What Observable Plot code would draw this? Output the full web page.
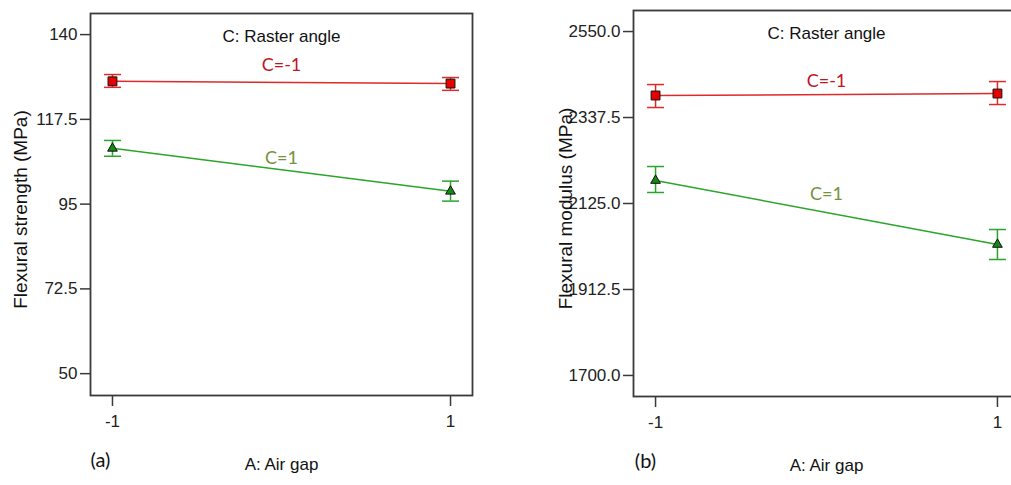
<!DOCTYPE html>
<html>
<head>
<meta charset="utf-8">
<script src="https://cdn.jsdelivr.net/npm/d3@7"></script>
<script src="https://cdn.jsdelivr.net/npm/@observablehq/plot@0.6"></script>
<style>
  html, body { margin: 0; padding: 0; background: #fff; }
  body { width: 1011px; height: 485px; overflow: hidden; position: relative; }
  .panel { position: absolute; top: 0; height: 485px; }
  .panel svg { display: block; overflow: visible; max-width: none !important; }
</style>
</head>
<body>
<div id="a" class="panel" style="left:0px;width:500px"></div>
<div id="b" class="panel" style="left:500px;width:530px"></div>
<script>
// ---- data ----
const airGap = [-1, 1];
const seriesNames = ["C=-1", "C=1"];

// (a) Flexural strength (MPa)
const strengthTicks = [50, 72.5, 95, 117.5, 140];
const strengthRed = [127.6, 127.0];
const strengthRedLow = [126.0, 125.2];
const strengthRedHigh = [129.4, 128.6];
const strengthGreen = [109.8, 98.4];
const strengthGreenLow = [107.7, 95.8];
const strengthGreenHigh = [111.9, 101.1];

// (b) Flexural modulus (MPa)
const modulusTicks = [1700, 1912.5, 2125, 2337.5, 2550];
const modulusRed = [2391.9, 2396.8];
const modulusRedLow = [2362.2, 2369.6];
const modulusRedHigh = [2419.0, 2426.4];
const modulusGreen = [2181.8, 2023.7];
const modulusGreenLow = [2152.2, 1986.6];
const modulusGreenHigh = [2216.4, 2060.7];

const xTicks = [-1, 1];

// ---- styling ----
const SANS = "'Liberation Sans', Arial, sans-serif";
const CAL = "Lato, 'Open Sans', sans-serif";
const RED_LINE = "#dd2a2a", RED_FILL = "#e60000", RED_TEXT = "#c0141e";
const GREEN_LINE = "#2aa52a", GREEN_FILL = "#148a14", GREEN_TEXT = "#76923c";
const FRAME = "#3a3a3a";

// horizontal error-bar cap as a custom symbol
const capSymbol = {
  draw(ctx, size) {
    const r = Math.sqrt(size / Math.PI);
    ctx.moveTo(-r, 0);
    ctx.lineTo(r, 0);
  }
};

function rows(vals, lows, highs, name) {
  return airGap.map((x, i) => ({x, y: vals[i], lo: lows[i], hi: highs[i], name}));
}

function panel({red, green, ticks, tickFormat, yDomain, xDomain, width, marginLeft, marginRight, marginTop, marginBottom, yLabel, tag, tagDx, yLabelX, labelDy}) {
  const height = 485;
  const redMid = {x: 0, y: d3.mean(red, d => d.y)};
  const greenMid = {x: 0, y: d3.mean(green, d => d.y)};
  const seriesMarks = (data, line, fill, symbol, r) => [
    Plot.line(data, {x: "x", y: "y", stroke: line, strokeWidth: 1.5}),
    Plot.ruleX(data, {x: "x", y1: "lo", y2: "hi", stroke: line, strokeWidth: 1.5}),
    Plot.dot(data, {x: "x", y: "lo", symbol: capSymbol, r: 8.5, stroke: line, strokeWidth: 1.5, fill: "none"}),
    Plot.dot(data, {x: "x", y: "hi", symbol: capSymbol, r: 8.5, stroke: line, strokeWidth: 1.5, fill: "none"}),
    Plot.dot(data, {x: "x", y: "y", symbol, r, fill, stroke: "#111", strokeWidth: 1})
  ];
  return Plot.plot({
    width, height, marginLeft, marginRight, marginTop, marginBottom,
    style: {fontFamily: SANS, fontSize: "17px", color: "#222", background: "transparent", overflow: "visible"},
    x: {domain: xDomain, ticks: xTicks, tickFormat: d => String(d), label: null},
    y: {domain: yDomain, ticks, tickFormat, label: null},
    marks: [
      Plot.axisY({ticks, tickFormat, tickSize: 10, tickPadding: 3, stroke: FRAME, strokeWidth: 1.5, label: null, fontSize: 17}),
      Plot.axisX({ticks: xTicks, tickFormat: d => String(d), tickSize: 11, tickPadding: 8, stroke: FRAME, strokeWidth: 1.5, label: null, fontSize: 17}),
      Plot.frame({stroke: FRAME, strokeWidth: 1.8}),
      ...seriesMarks(red, RED_LINE, RED_FILL, "square", 5),
      ...seriesMarks(green, GREEN_LINE, GREEN_FILL, "triangle", 3.6),
      Plot.text([seriesNames[0]], {x: () => redMid.x, y: () => redMid.y, dy: labelDy[0], fill: RED_TEXT, fontFamily: CAL, fontSize: 18}),
      Plot.text([seriesNames[1]], {x: () => greenMid.x, y: () => greenMid.y, dy: labelDy[1], fill: GREEN_TEXT, fontFamily: CAL, fontSize: 18}),
      Plot.text(["C: Raster angle"], {frameAnchor: "top", dy: 16, fontSize: 17, fill: "#111"}),
      Plot.text(["A: Air gap"], {frameAnchor: "bottom", dy: 74, fontSize: 17, fill: "#111"}),
      Plot.text([tag], {frameAnchor: "bottom-left", textAnchor: "middle", dx: tagDx, dy: 71, fontFamily: CAL, fontSize: 20, fill: "#111"}),
      Plot.text([yLabel], {frameAnchor: "left", textAnchor: "middle", dx: yLabelX - marginLeft, dy: 5, rotate: -90, fontSize: 19, fill: "#111"})
    ]
  });
}

const red_a = rows(strengthRed, strengthRedLow, strengthRedHigh, seriesNames[0]);
const green_a = rows(strengthGreen, strengthGreenLow, strengthGreenHigh, seriesNames[1]);
const red_b = rows(modulusRed, modulusRedLow, modulusRedHigh, seriesNames[0]);
const green_b = rows(modulusGreen, modulusGreenLow, modulusGreenHigh, seriesNames[1]);

document.getElementById("a").append(panel({
  red: red_a, green: green_a, ticks: strengthTicks, tickFormat: d => String(d),
  yDomain: [44.2, 145.6], xDomain: [-1.13, 1.13],
  width: 500, marginLeft: 90, marginRight: 28, marginTop: 13, marginBottom: 90,
  yLabel: "Flexural strength (MPa)", tag: "(a)", tagDx: 10, yLabelX: 20, labelDy: [-17, -12]
}));

document.getElementById("b").append(panel({
  red: red_b, green: green_b, ticks: modulusTicks, tickFormat: d3.format(".1f"),
  yDomain: [1648, 2602], xDomain: [-1.129, 1.129],
  width: 530, marginLeft: 133, marginRight: 11, marginTop: 10, marginBottom: 89,
  yLabel: "Flexural modulus (MPa)", tag: "(b)", tagDx: 12, yLabelX: 65, labelDy: [-13, -18]
}));
</script>
</body>
</html>
